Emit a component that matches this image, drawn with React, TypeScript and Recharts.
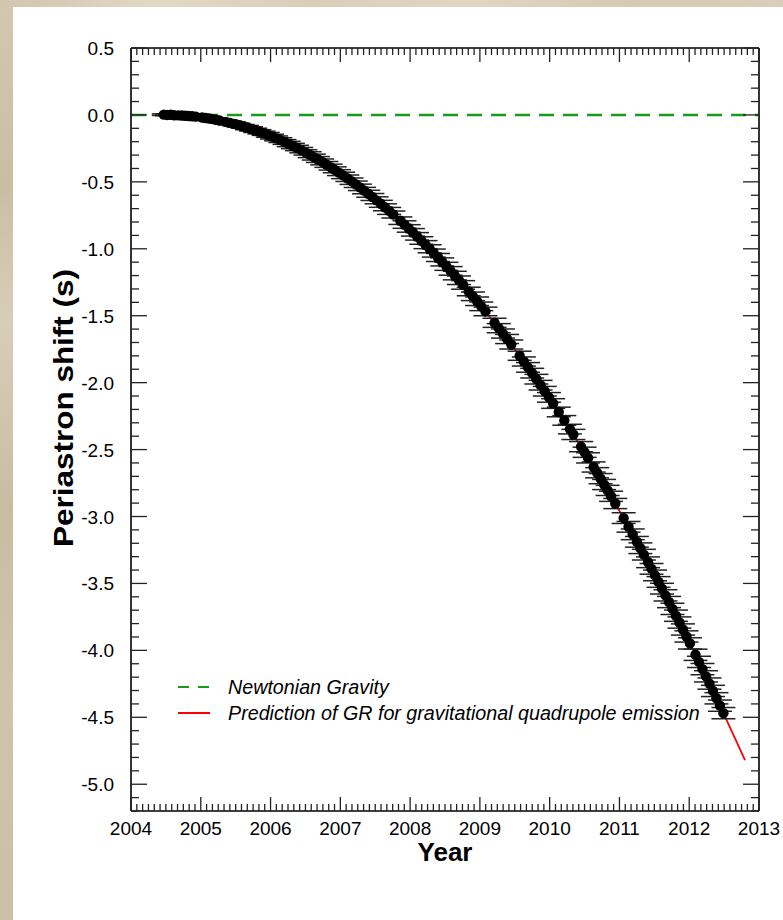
import React from 'react';
import { ComposedChart, Line, Scatter, XAxis, YAxis, ZAxis, ErrorBar, Legend } from 'recharts';

const FONT = '"Liberation Sans", Arial, Helvetica, sans-serif';

// Observed periastron shift (s) vs year
const obsYear = [
  2004.47, 2004.52, 2004.57, 2004.62, 2004.68, 2004.73, 2004.78, 2004.83, 2004.88, 2004.93,
  2005.02, 2005.07, 2005.12, 2005.17, 2005.22, 2005.27,
  2005.36, 2005.42, 2005.48, 2005.54, 2005.60, 2005.66, 2005.72, 2005.78, 2005.84, 2005.90,
  2005.96, 2006.02, 2006.08, 2006.14, 2006.20, 2006.26, 2006.32, 2006.38, 2006.44, 2006.50,
  2006.56, 2006.62, 2006.68, 2006.74, 2006.80, 2006.86, 2006.92, 2006.98, 2007.04, 2007.10,
  2007.16, 2007.22, 2007.28, 2007.34, 2007.40, 2007.46, 2007.52, 2007.58, 2007.64, 2007.70,
  2007.76,
  2007.86, 2007.92, 2007.98, 2008.04, 2008.10, 2008.16, 2008.22, 2008.28, 2008.34, 2008.40,
  2008.46, 2008.52, 2008.58, 2008.64, 2008.70, 2008.76,
  2008.84, 2008.90, 2008.96, 2009.02, 2009.08,
  2009.21, 2009.27, 2009.33, 2009.39, 2009.45,
  2009.57, 2009.63, 2009.69, 2009.75, 2009.81, 2009.87, 2009.93, 2009.99, 2010.05,
  2010.13, 2010.21, 2010.29, 2010.34, 2010.45, 2010.50, 2010.55,
  2010.63, 2010.68, 2010.73, 2010.78, 2010.83, 2010.88, 2010.94,
  2011.06, 2011.13, 2011.19, 2011.25, 2011.30, 2011.35, 2011.41,
  2011.46, 2011.51, 2011.56, 2011.61, 2011.66, 2011.71, 2011.76, 2011.81, 2011.86, 2011.91,
  2011.96, 2012.01,
  2012.09, 2012.14, 2012.19, 2012.24, 2012.29, 2012.34, 2012.39, 2012.44, 2012.49,
];

const obsShift = [
  0.002, 0.0, 0.001, -0.002, -0.003, -0.004, -0.006, -0.008, -0.010, -0.013,
  -0.019, -0.023, -0.027, -0.031, -0.036, -0.042,
  -0.052, -0.059, -0.067, -0.076, -0.085, -0.094, -0.104, -0.115, -0.126, -0.137,
  -0.149, -0.162, -0.175, -0.188, -0.202, -0.217, -0.232, -0.247, -0.263, -0.280,
  -0.297, -0.315, -0.333, -0.351, -0.370, -0.390, -0.410, -0.431, -0.452, -0.473,
  -0.495, -0.518, -0.541, -0.565, -0.589, -0.613, -0.638, -0.664, -0.690, -0.717,
  -0.744,
  -0.790, -0.819, -0.848, -0.877, -0.907, -0.938, -0.969, -1.000, -1.032, -1.065,
  -1.098, -1.131, -1.165, -1.200, -1.235, -1.270,
  -1.319, -1.355, -1.392, -1.430, -1.468,
  -1.553, -1.593, -1.633, -1.674, -1.715,
  -1.799, -1.842, -1.886, -1.929, -1.974, -2.019, -2.064, -2.110, -2.156,
  -2.219, -2.282, -2.347, -2.387, -2.478, -2.520, -2.562,
  -2.630, -2.673, -2.717, -2.761, -2.805, -2.849, -2.903,
  -3.012, -3.077, -3.133, -3.189, -3.237, -3.285, -3.342,
  -3.391, -3.440, -3.489, -3.539, -3.589, -3.639, -3.690, -3.741, -3.792, -3.844,
  -3.896, -3.948,
  -4.033, -4.086, -4.140, -4.194, -4.248, -4.303, -4.358, -4.413, -4.469,
];

const obsErr = [
  0.006, 0.006, 0.006, 0.006, 0.006, 0.006, 0.006, 0.006, 0.006, 0.006,
  0.01, 0.01, 0.01, 0.01, 0.01, 0.01,
  0.014, 0.014, 0.014, 0.014, 0.014, 0.016, 0.016, 0.016, 0.016, 0.016,
  0.018, 0.018, 0.018, 0.018, 0.018, 0.02, 0.02, 0.02, 0.02, 0.02,
  0.022, 0.022, 0.022, 0.022, 0.022, 0.022, 0.022, 0.022, 0.024, 0.024,
  0.024, 0.024, 0.024, 0.024, 0.026, 0.026, 0.026, 0.026, 0.026, 0.026,
  0.026,
  0.028, 0.028, 0.028, 0.028, 0.028, 0.028, 0.03, 0.03, 0.03, 0.03,
  0.03, 0.03, 0.032, 0.032, 0.032, 0.032,
  0.032, 0.032, 0.032, 0.032, 0.032,
  0.034, 0.034, 0.034, 0.034, 0.034,
  0.034, 0.034, 0.036, 0.036, 0.036, 0.036, 0.036, 0.036, 0.036,
  0.036, 0.036, 0.036, 0.038, 0.038, 0.038, 0.038,
  0.038, 0.038, 0.038, 0.038, 0.038, 0.038, 0.038,
  0.04, 0.04, 0.04, 0.04, 0.04, 0.04, 0.04,
  0.04, 0.04, 0.04, 0.04, 0.042, 0.042, 0.042, 0.042, 0.042, 0.042,
  0.042, 0.042,
  0.042, 0.042, 0.042, 0.042, 0.042, 0.042, 0.042, 0.042, 0.042,
];

// GR prediction curve
const grYear = [
  2004.5, 2004.75, 2005.0, 2005.25, 2005.5, 2005.75, 2006.0, 2006.25, 2006.5, 2006.75,
  2007.0, 2007.25, 2007.5, 2007.75, 2008.0, 2008.25, 2008.5, 2008.75, 2009.0, 2009.25,
  2009.5, 2009.75, 2010.0, 2010.25, 2010.5, 2010.75, 2011.0, 2011.25, 2011.5, 2011.75,
  2012.0, 2012.25, 2012.5, 2012.75, 2012.8,
];
const grShift = [
  0.0, -0.004, -0.018, -0.039, -0.070, -0.109, -0.158, -0.214, -0.280, -0.354,
  -0.438, -0.529, -0.630, -0.739, -0.858, -0.984, -1.120, -1.264, -1.418, -1.579,
  -1.750, -1.929, -2.118, -2.314, -2.520, -2.734, -2.958, -3.189, -3.430, -3.679,
  -3.938, -4.204, -4.480, -4.764, -4.820,
];

// Newtonian expectation
const newtonYear = [2004, 2013];
const newtonShift = [0, 0];

// Axes
const xDomain = [2004, 2013];
const yDomain = [-5.2, 0.5];
const xTickLabels = ['2004', '2005', '2006', '2007', '2008', '2009', '2010', '2011', '2012', '2013'];
const yTickLabels = ['0.5', '0.0', '-0.5', '-1.0', '-1.5', '-2.0', '-2.5', '-3.0', '-3.5', '-4.0', '-4.5', '-5.0'];
const xMinorPerMajor = 12;
const yMinorStep = 0.1;

const legendItems = [
  { label: 'Newtonian Gravity', color: '#1a9a1a', dash: '11 9' },
  { label: 'Prediction of GR for gravitational quadrupole emission', color: '#ff0000', dash: '' },
];

const obsData = obsYear.map((year, i) => ({ year, shift: obsShift[i], err: obsErr[i] }));
const grData = grYear.map((year, i) => ({ year, shift: grShift[i] }));
const newtonData = newtonYear.map((year, i) => ({ year, shift: newtonShift[i] }));

const xTicks: number[] = [];
for (let i = 0; i < xTickLabels.length - 1; i++) {
  for (let m = 0; m < xMinorPerMajor; m++) xTicks.push(Number(xTickLabels[i]) + m / xMinorPerMajor);
}
xTicks.push(Number(xTickLabels[xTickLabels.length - 1]));

const yTicks: number[] = [];
for (let k = 0; ; k++) {
  const v = Math.round((yDomain[1] - k * yMinorStep) * 10) / 10;
  if (v < yDomain[0] - 1e-9) break;
  yTicks.push(v);
}

const isMajorX = (v: number) => Math.abs(v - Math.round(v)) < 1e-6;
const isMajorY = (v: number) => Math.abs(v * 2 - Math.round(v * 2)) < 1e-6;
const TICK_STROKE = '#222';
const TICK_FONT = 19;

const BottomTick = (props: any) => {
  const { x, y, payload } = props;
  const v = payload.value;
  const major = isMajorX(v);
  const idx = Math.round(v) - Number(xTickLabels[0]);
  return (
    <g>
      <line x1={x} y1={y} x2={x} y2={y - (major ? 14 : 7)} stroke={TICK_STROKE} strokeWidth={1.3} />
      {major && (
        <text x={x} y={y + 24} textAnchor="middle" fontSize={TICK_FONT} fontFamily={FONT} fill="#000">
          {xTickLabels[idx]}
        </text>
      )}
    </g>
  );
};

const TopTick = (props: any) => {
  const { x, y, payload } = props;
  const major = isMajorX(payload.value);
  return <line x1={x} y1={y} x2={x} y2={y + (major ? 14 : 7)} stroke={TICK_STROKE} strokeWidth={1.3} />;
};

const LeftTick = (props: any) => {
  const { x, y, payload } = props;
  const v = payload.value;
  const major = isMajorY(v);
  const idx = Math.round((yDomain[1] - v) * 2);
  return (
    <g>
      <line x1={x} y1={y} x2={x + (major ? 16 : 8)} y2={y} stroke={TICK_STROKE} strokeWidth={1.3} />
      {major && (
        <text x={x - 17} y={y + 7} textAnchor="end" fontSize={TICK_FONT} fontFamily={FONT} fill="#000">
          {yTickLabels[idx]}
        </text>
      )}
    </g>
  );
};

const RightTick = (props: any) => {
  const { x, y, payload } = props;
  const major = isMajorY(payload.value);
  return <line x1={x} y1={y} x2={x - (major ? 16 : 8)} y2={y} stroke={TICK_STROKE} strokeWidth={1.3} />;
};

const XTitle = () => (
  <text x={445} y={861} textAnchor="middle" fontSize={26} fontWeight="bold" fontFamily={FONT} fill="#000">
    Year
  </text>
);

const YTitle = () => (
  <text
    x={0}
    y={0}
    transform="translate(73,408) rotate(-90)"
    textAnchor="middle"
    fontSize={27}
    fontWeight="bold"
    fontFamily={FONT}
    fill="#000"
    textLength={278}
    lengthAdjust="spacingAndGlyphs"
  >
    Periastron shift (s)
  </text>
);

const LegendContent = () => (
  <svg width={600} height={60} style={{ overflow: 'visible' }}>
    {legendItems.map((it, i) => (
      <g key={it.label} transform={`translate(0, ${12 + i * 26})`}>
        <line x1={8} y1={0} x2={40} y2={0} stroke={it.color} strokeWidth={2} strokeDasharray={it.dash || undefined} />
        <text x={58} y={7} fontSize={19.7} fontStyle="italic" fontFamily={FONT} fill="#000">
          {it.label}
        </text>
      </g>
    ))}
  </svg>
);

export default function App() {
  return (
    <div style={{ position: 'absolute', left: 0, top: 0, width: 783, height: 920, background: '#fff', overflow: 'hidden' }}>
      <div
        style={{
          position: 'absolute', left: 0, top: 0, width: 13, height: 920,
          background: 'linear-gradient(180deg, #d3c7af 0%, #cabda2 20%, #d8cdb8 35%, #c9bca1 55%, #cfc3aa 75%, #cbbfa5 100%)',
        }}
      />
      <div
        style={{
          position: 'absolute', left: 0, top: 0, width: 783, height: 7,
          background: 'linear-gradient(90deg, #d1c5ad 0%, #e2d8c6 20%, #d9ceb8 40%, #e0d6c3 60%, #d6cab3 80%, #d9ceb9 100%)',
        }}
      />
      <div style={{ position: 'absolute', left: 0, top: 0 }}>
        <ComposedChart width={783} height={920} margin={{ top: 47, right: 23, bottom: 79, left: 71 }}>
          <XAxis
            xAxisId="bottom"
            dataKey="year"
            type="number"
            domain={xDomain}
            allowDataOverflow
            ticks={xTicks}
            interval={0}
            tickSize={0}
            tickMargin={0}
            tickLine={false}
            tick={<BottomTick />}
            axisLine={{ stroke: '#000', strokeWidth: 1.6 }}
            height={30}
            label={<XTitle />}
          />
          <XAxis
            xAxisId="top"
            orientation="top"
            dataKey="year"
            type="number"
            domain={xDomain}
            allowDataOverflow
            ticks={xTicks}
            interval={0}
            tickSize={0}
            tickMargin={0}
            tickLine={false}
            tick={<TopTick />}
            axisLine={{ stroke: '#000', strokeWidth: 1.6 }}
            height={1}
          />
          <YAxis
            yAxisId="left"
            dataKey="shift"
            type="number"
            domain={yDomain}
            allowDataOverflow
            ticks={yTicks}
            interval={0}
            tickSize={0}
            tickMargin={0}
            tickLine={false}
            tick={<LeftTick />}
            axisLine={{ stroke: '#000', strokeWidth: 1.6 }}
            width={60}
            label={<YTitle />}
          />
          <YAxis
            yAxisId="right"
            orientation="right"
            dataKey="shift"
            type="number"
            domain={yDomain}
            allowDataOverflow
            ticks={yTicks}
            interval={0}
            tickSize={0}
            tickMargin={0}
            tickLine={false}
            tick={<RightTick />}
            axisLine={{ stroke: '#000', strokeWidth: 1.6 }}
            width={1}
          />
          <ZAxis range={[85, 85]} />
          <Line
            xAxisId="top"
            yAxisId="right"
            data={newtonData}
            dataKey="shift"
            stroke="none"
            strokeWidth={0}
            dot={false}
            activeDot={false}
            legendType="none"
            isAnimationActive={false}
          />
          <Line
            xAxisId="bottom"
            yAxisId="left"
            data={newtonData}
            dataKey="shift"
            stroke="#1a9a1a"
            strokeWidth={2.6}
            strokeDasharray="15 9"
            dot={false}
            activeDot={false}
            isAnimationActive={false}
          />
          <Line
            xAxisId="bottom"
            yAxisId="left"
            data={grData}
            dataKey="shift"
            stroke="#ff0000"
            strokeWidth={1.8}
            dot={false}
            activeDot={false}
            isAnimationActive={false}
          />
          <Scatter
            xAxisId="bottom"
            yAxisId="left"
            data={obsData}
            dataKey="shift"
            fill="#000"
            shape="circle"
            isAnimationActive={false}
          >
            <ErrorBar dataKey="err" direction="y" width={12} stroke="#222" strokeWidth={1.5} isAnimationActive={false} />
          </Scatter>
          <Legend
            layout="horizontal"
            verticalAlign="middle"
            align="center"
            content={<LegendContent />}
            wrapperStyle={{ position: 'absolute', left: 170, top: 675, width: 600, height: 60 }}
          />
        </ComposedChart>
      </div>
    </div>
  );
}
